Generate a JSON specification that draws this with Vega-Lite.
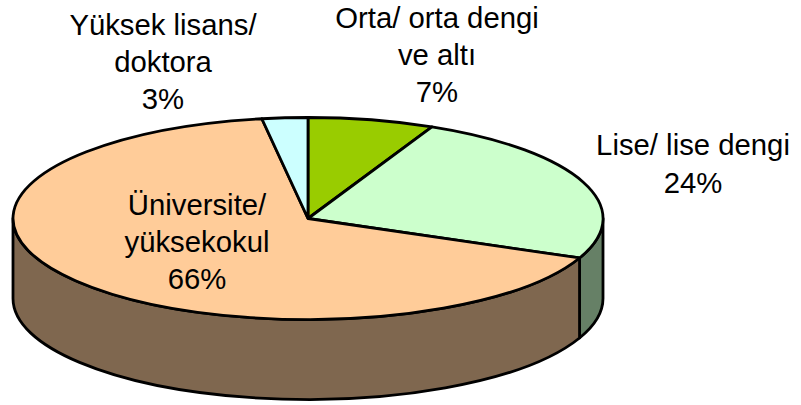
{
  "$schema": "https://vega.github.io/schema/vega-lite/v6.json",
  "width": 801,
  "height": 405,
  "autosize": {"type": "fit", "contains": "padding"},
  "padding": 0,
  "background": "white",
  "config": {"view": {"stroke": null}, "font": "Liberation Sans"},
  "data": {"values": [
    {"category": "Orta/ orta dengi\nve altı", "share": 6.9},
    {"category": "Lise/ lise dengi", "share": 24.49},
    {"category": "Üniversite/\nyüksekokul", "share": 66.11},
    {"category": "Yüksek lisans/\ndoktora", "share": 2.5}
  ]},
  "transform": [
    {"window": [{"op": "sum", "field": "share", "as": "cum"}], "frame": [null, 0]},
    {"calculate": "2*PI*(datum.cum-datum.share)/100", "as": "t0"},
    {"calculate": "2*PI*datum.cum/100", "as": "t1"},
    {"calculate": "round(295*sin(datum.t0)*100)/100", "as": "x0"},
    {"calculate": "round(-101*cos(datum.t0)*100)/100", "as": "y0"},
    {"calculate": "round(295*sin(datum.t1)*100)/100", "as": "x1"},
    {"calculate": "round(-101*cos(datum.t1)*100)/100", "as": "y1"},
    {"calculate": "'M0,0L'+datum.x0+','+datum.y0+'A295,101 0 '+(datum.t1-datum.t0>PI?1:0)+' 1 '+datum.x1+','+datum.y1+'Z'", "as": "topPath"},
    {"calculate": "max(datum.t0,PI/2)", "as": "s0"},
    {"calculate": "min(datum.t1,3*PI/2)", "as": "s1"},
    {"calculate": "round(295*sin(datum.s0)*100)/100", "as": "sx0"},
    {"calculate": "round(-101*cos(datum.s0)*100)/100", "as": "sy0"},
    {"calculate": "round(295*sin(datum.s1)*100)/100", "as": "sx1"},
    {"calculate": "round(-101*cos(datum.s1)*100)/100", "as": "sy1"},
    {"calculate": "datum.s1>datum.s0 ? 'M'+datum.sx0+','+datum.sy0+'A295,101 0 0 1 '+datum.sx1+','+datum.sy1+'L'+datum.sx1+','+(datum.sy1+80)+'A295,101 0 0 0 '+datum.sx0+','+(datum.sy0+80)+'Z' : ''", "as": "sidePath"},
    {"calculate": "datum.category+'\\n'+round(datum.share)+'%'", "as": "label"}
  ],
  "layer": [
    {
      "transform": [{"filter": "datum.sidePath!=''"}],
      "mark": {"type": "point", "filled": true, "opacity": 1, "stroke": "black", "strokeWidth": 2.8, "strokeJoin": "round", "size": 4, "clip": false},
      "encoding": {
        "x": {"datum": 0, "type": "quantitative", "scale": {"domain": [-308, 493], "nice": false, "zero": false}, "axis": null},
        "y": {"datum": 0, "type": "quantitative", "scale": {"domain": [-186.5, 218.5], "nice": false, "zero": false}, "axis": null},
        "shape": {"field": "sidePath", "type": "nominal", "scale": null, "legend": null},
        "fill": {"field": "category", "type": "nominal", "legend": null, "scale": {
          "domain": ["Orta/ orta dengi\nve altı", "Lise/ lise dengi", "Üniversite/\nyüksekokul", "Yüksek lisans/\ndoktora"],
          "range": ["#4D6600", "#668066", "#7F674F", "#668080"]}}
      }
    },
    {
      "mark": {"type": "point", "filled": true, "opacity": 1, "stroke": "black", "strokeWidth": 2.8, "strokeJoin": "round", "size": 4, "clip": false},
      "encoding": {
        "x": {"datum": 0, "type": "quantitative", "axis": null},
        "y": {"datum": 0, "type": "quantitative", "axis": null},
        "shape": {"field": "topPath", "type": "nominal", "scale": null, "legend": null},
        "fill": {"field": "category", "type": "nominal", "legend": null, "scale": {
          "domain": ["Orta/ orta dengi\nve altı", "Lise/ lise dengi", "Üniversite/\nyüksekokul", "Yüksek lisans/\ndoktora"],
          "range": ["#99CC00", "#CCFFCC", "#FFCC99", "#CCFFFF"]}}
      }
    },
    {
      "transform": [{"filter": "datum.category=='Orta/ orta dengi\\nve altı'"}],
      "mark": {"type": "text", "lineBreak": "\n", "lineHeight": 37, "fontSize": 29.3, "color": "black"},
      "encoding": {"x": {"datum": 129, "type": "quantitative", "axis": null}, "y": {"datum": 199.5, "type": "quantitative", "axis": null}, "text": {"field": "label"}}
    },
    {
      "transform": [{"filter": "datum.category=='Lise/ lise dengi'"}],
      "mark": {"type": "text", "lineBreak": "\n", "lineHeight": 38, "fontSize": 29.3, "color": "black"},
      "encoding": {"x": {"datum": 385, "type": "quantitative", "axis": null}, "y": {"datum": 73, "type": "quantitative", "axis": null}, "text": {"field": "label"}}
    },
    {
      "transform": [{"filter": "datum.category=='Üniversite/\\nyüksekokul'"}],
      "mark": {"type": "text", "lineBreak": "\n", "lineHeight": 37, "fontSize": 29.3, "color": "black"},
      "encoding": {"x": {"datum": -111, "type": "quantitative", "axis": null}, "y": {"datum": 12.5, "type": "quantitative", "axis": null}, "text": {"field": "label"}}
    },
    {
      "transform": [{"filter": "datum.category=='Yüksek lisans/\\ndoktora'"}],
      "mark": {"type": "text", "lineBreak": "\n", "lineHeight": 37, "fontSize": 29.3, "color": "black"},
      "encoding": {"x": {"datum": -145, "type": "quantitative", "axis": null}, "y": {"datum": 193, "type": "quantitative", "axis": null}, "text": {"field": "label"}}
    }
  ],
  "resolve": {"scale": {"fill": "independent"}}
}
